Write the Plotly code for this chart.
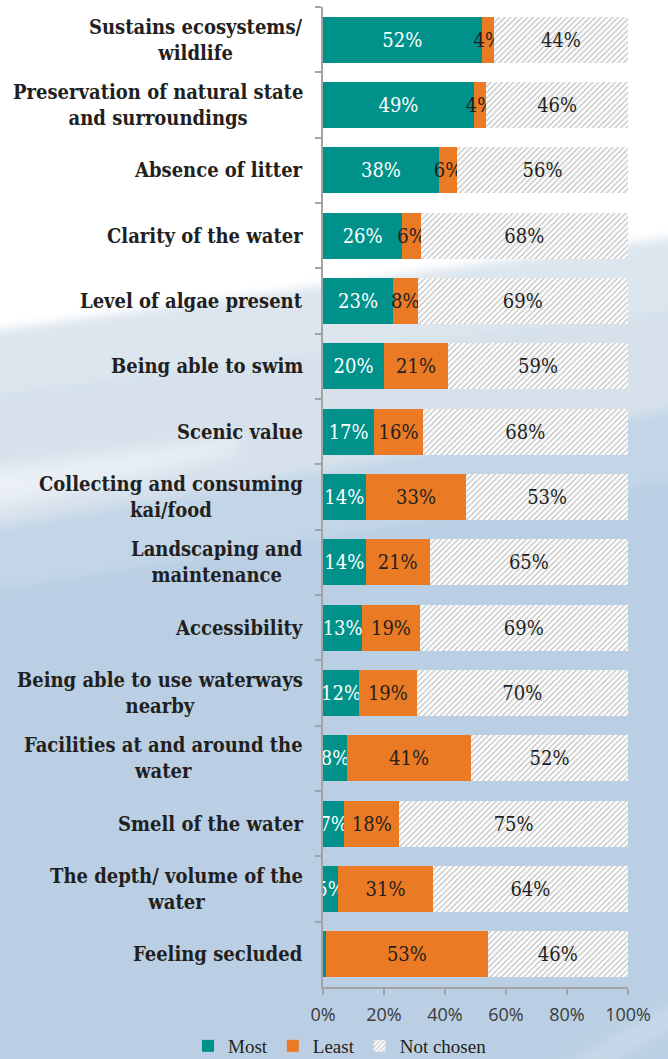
import base64
import plotly.graph_objects as go

# Reasons given for valuing a waterway: share choosing each as most / least important
categories = [
    "Sustains ecosystems/<br>wildlife",
    "Preservation of natural state<br>and surroundings",
    "Absence of litter",
    "Clarity of the water",
    "Level of algae present",
    "Being able to swim",
    "Scenic value",
    "Collecting and consuming<br>kai/food",
    "Landscaping and<br>maintenance",
    "Accessibility",
    "Being able to use waterways<br>nearby",
    "Facilities at and around the<br>water",
    "Smell of the water",
    "The depth/ volume of the<br>water",
    "Feeling secluded",
]
most = [52, 49, 38, 26, 23, 20, 17, 14, 14, 13, 12, 8, 7, 5, 1]
least = [4, 4, 6, 6, 8, 21, 16, 33, 21, 19, 19, 41, 18, 31, 53]
not_chosen = [44, 46, 56, 68, 69, 59, 68, 53, 65, 69, 70, 52, 75, 64, 46]

x_ticks = [0, 20, 40, 60, 80, 100]

W, H = 668, 1059
M_L, M_R, M_T, M_B = 323, 40, 7, 72
PLOT_W = W - M_L - M_R
PLOT_H = H - M_T - M_B

TEAL = "#00928a"
ORANGE = "#eb7a25"
DARK = "#231f20"
VALUE_FONT = "DejaVu Serif Condensed, DejaVu Serif"
LABEL_FONT = "DejaVu Serif Condensed, DejaVu Serif"
LEGEND_FONT = "Liberation Serif"
LABEL_GAP = 19  # px between category label block and the axis line


def labels(values):
    return [f"{v}%" if v >= 3 else "" for v in values]


# Soft sky / water backdrop drawn as an SVG behind the chart
svg = f"""<svg xmlns='http://www.w3.org/2000/svg' width='{W}' height='{H}' viewBox='0 0 {W} {H}'>
<defs>
<filter id='b' x='-20%' y='-20%' width='140%' height='140%'><feGaussianBlur stdDeviation='5'/></filter>
<filter id='s' x='-20%' y='-20%' width='140%' height='140%'><feGaussianBlur stdDeviation='9'/></filter>
</defs>
<rect width='{W}' height='{H}' fill='#ffffff'/>
<g filter='url(#b)'>
<polygon points='-60,338 740,228 740,1120 -60,1120' fill='#dde6ee'/>
<polygon points='-60,400 740,300 740,1120 -60,1120' fill='#d6e1eb'/>
<polygon points='-60,537 740,398 740,1120 -60,1120' fill='#c3d6e7'/>
<polygon points='-60,600 740,470 740,1120 -60,1120' fill='#bacfe3'/>
</g>
<g filter='url(#s)'>
<polygon points='-20,470 240,438 240,452 -20,512' fill='#eaf0f6'/>
<polygon points='540,1080 700,990 700,1010 580,1080' fill='#cbdbea'/>
</g>
</svg>"""
bg_uri = "data:image/svg+xml;base64," + base64.b64encode(svg.encode()).decode()

fig = go.Figure()

fig.add_trace(go.Bar(
    name="Most", y=categories, x=most, orientation="h",
    marker=dict(color=TEAL, line=dict(width=0)),
    text=labels(most), textposition="inside", insidetextanchor="middle",
    textangle=0, textfont=dict(family=VALUE_FONT, size=20, color="white"),
))
fig.add_trace(go.Bar(
    name="Least", y=categories, x=least, orientation="h",
    marker=dict(color=ORANGE, line=dict(width=0)),
    text=labels(least), textposition="inside", insidetextanchor="middle",
    textangle=0, textfont=dict(family=VALUE_FONT, size=20, color=DARK),
))
fig.add_trace(go.Bar(
    name="Not chosen", y=categories, x=not_chosen, orientation="h",
    marker=dict(
        color="white", line=dict(width=0),
        pattern=dict(shape="/", bgcolor="white", fgcolor="#8a8a8a",
                     size=4, solidity=0.35, fillmode="overlay"),
    ),
    text=labels(not_chosen), textposition="inside", insidetextanchor="middle",
    textangle=0, textfont=dict(family=VALUE_FONT, size=20, color=DARK),
))

# Category labels: right-aligned blocks whose lines are centred on each other
category_labels = [
    dict(
        text=c, xref="paper", yref="y", x=-LABEL_GAP / PLOT_W, y=c,
        xanchor="right", yanchor="middle", align="center", showarrow=False,
        borderpad=0,
        font=dict(family=LABEL_FONT, size=20, color=DARK, weight="bold"),
    )
    for c in categories
]

fig.update_layout(
    width=W, height=H,
    margin=dict(l=M_L, r=M_R, t=M_T, b=M_B, pad=0, autoexpand=False),
    barmode="stack", barnorm="percent", bargap=0.3,
    paper_bgcolor="white", plot_bgcolor="rgba(0,0,0,0)",
    uniformtext=dict(minsize=20, mode="show"),
    showlegend=True,
    legend=dict(
        orientation="h", x=(340 - M_L) / PLOT_W, xanchor="center",
        y=-(1027 - (H - M_B)) / PLOT_H, yanchor="top",
        font=dict(family=LEGEND_FONT, size=19, color=DARK),
        bgcolor="rgba(0,0,0,0)", itemwidth=30, traceorder="normal",
    ),
    annotations=category_labels,
    images=[dict(
        source=bg_uri, xref="paper", yref="paper",
        x=-M_L / PLOT_W, y=1 + M_T / PLOT_H,
        sizex=W / PLOT_W, sizey=H / PLOT_H,
        xanchor="left", yanchor="top", sizing="stretch", layer="below",
    )],
)

fig.update_xaxes(
    range=[0, 100], tickvals=x_ticks, ticktext=[f"{v}%" for v in x_ticks],
    showgrid=False, zeroline=False, automargin=False,
    showline=True, linecolor="#a3a3a3", linewidth=2,
    ticks="outside", ticklen=6, tickcolor="#a3a3a3", tickwidth=2,
    ticklabelstandoff=4,
    tickfont=dict(family="Open Sans", size=18, color="#3a3a3a"),
    fixedrange=True,
)
fig.update_yaxes(
    autorange="reversed", showgrid=False, zeroline=False, automargin=False,
    showline=True, linecolor="#a3a3a3", linewidth=2,
    ticks="outside", tickson="boundaries", ticklen=6,
    tickcolor="#a3a3a3", tickwidth=2, showticklabels=False,
    fixedrange=True,
)

fig.write_html("out.html")
